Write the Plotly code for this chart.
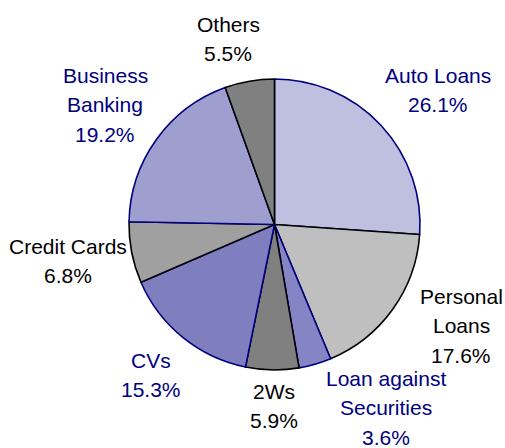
"""Loan book mix pie chart."""

import plotly.graph_objects as go

W, H = 505, 448

segments = ["Auto Loans", "Personal Loans", "Loan against Securities", "2Ws",
            "CVs", "Credit Cards", "Business Banking", "Others"]
shares = [26.1, 17.6, 3.6, 5.9, 15.3, 6.8, 19.2, 5.5]
label_lines = [["Auto Loans"], ["Personal", "Loans"], ["Loan against", "Securities"],
               ["2Ws"], ["CVs"], ["Credit Cards"], ["Business", "Banking"], ["Others"]]

NAVY = "#000080"
fills = ["#bfbfdf", "#bfbfbf", "#8585c5", "#808080",
         "#7f7fbf", "#a0a0a0", "#9f9fcf", "#808080"]
edges = [NAVY, "black", NAVY, "black", NAVY, "black", NAVY, "black"]
text_colors = [NAVY, "black", NAVY, "black", NAVY, "black", NAVY, "black"]

# centre x and first-line middle y of each label block, in pixels
label_pos = [(438, 75), (461, 296), (386, 378), (274, 391),
             (151, 360), (68, 246), (105, 75), (228, 24)]
LINE_STEP = 29.8

fig = go.Figure(go.Pie(
    labels=segments, values=shares, sort=False, direction="clockwise",
    rotation=0, textinfo="none", hoverinfo="skip", showlegend=False,
    marker=dict(colors=fills, line=dict(color=edges, width=1.6)),
    domain=dict(x=[129 / W, 420 / W], y=[1 - 370 / H, 1 - 79 / H]),
))

for lines, share, color, (px, py) in zip(label_lines, shares, text_colors, label_pos):
    for i, line in enumerate(lines + [f"{share:.1f}%"]):
        fig.add_annotation(
            x=px / W, y=1 - (py + i * LINE_STEP) / H, xref="paper", yref="paper",
            text=line, showarrow=False, xanchor="center", yanchor="middle",
            font=dict(family="Liberation Sans, Arial", size=21, color=color),
        )

fig.update_layout(
    width=W, height=H, margin=dict(l=0, r=0, t=0, b=0),
    paper_bgcolor="white", plot_bgcolor="white",
)

# drop the default page margin so the figure sits at the window's corner
fig.write_html("out.html", config={"displayModeBar": False},
               post_script="document.body.style.margin='0';")
